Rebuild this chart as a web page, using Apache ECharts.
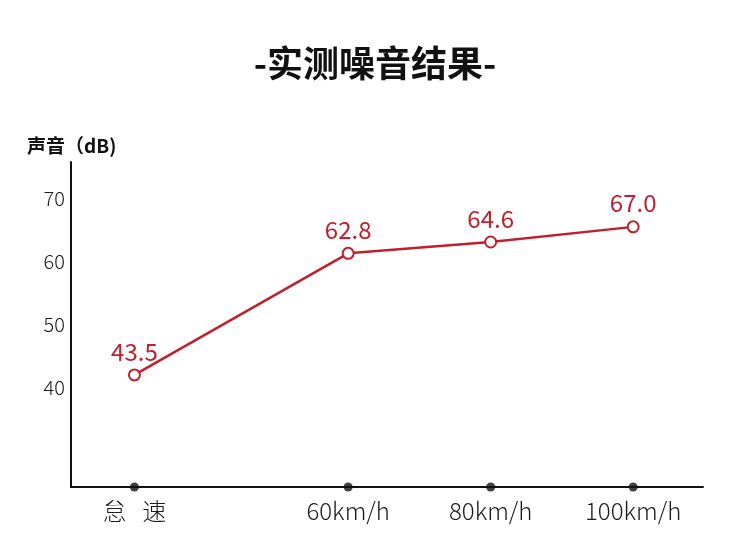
<!DOCTYPE html>
<html><head><meta charset="utf-8">
<script src="https://cdn.jsdelivr.net/npm/echarts@6/dist/echarts.min.js"></script>
<style>html,body{margin:0;padding:0;background:#fff}#c{width:750px;height:548px}</style>
</head><body><div id="c"></div>
<script>
const titleText = '-实测噪音结果-';
const yAxisTitle = '声音（dB)';
const categories = ['怠   速', '60km/h', '80km/h', '100km/h'];
const xSlots = [30, 60, 80, 100];
const noise = [43.5, 62.8, 64.6, 67.0];
const yTickLabels = [40, 50, 60, 70];

const yMin = 25.7, yMax = 77.3, xMin = 21.1, xMax = 109.8;
const RED = '#c0202e';
const FONT = '"Noto Sans CJK SC", "Noto Sans", sans-serif';

const chart = echarts.init(document.getElementById('c'), null, {renderer: 'canvas'});
chart.setOption({
  backgroundColor: '#fff',
  animation: false,
  title: [
    {text: titleText, left: 'center', top: 45, padding: 0,
     textStyle: {fontSize: 36, fontWeight: 'bold', color: '#111', fontFamily: FONT}},
    {text: yAxisTitle, left: 27, top: 136, padding: 0,
     textStyle: {fontSize: 19, fontWeight: 'bold', color: '#111', fontFamily: FONT}}
  ],
  grid: {left: 71, right: 47, top: 162, bottom: 61, containLabel: false},
  xAxis: {
    type: 'value', min: xMin, max: xMax,
    axisLine: {show: true, lineStyle: {color: '#111', width: 2}},
    axisTick: {show: false},
    splitLine: {show: false},
    axisLabel: {
      customValues: xSlots,
      formatter: v => categories[xSlots.indexOf(v)] || '',
      fontSize: 24, fontWeight: 300, color: '#1a1a1a', fontFamily: FONT, margin: 12
    }
  },
  yAxis: {
    type: 'value', min: yMin, max: yMax,
    axisLine: {show: true, lineStyle: {color: '#111', width: 2}},
    axisTick: {show: false},
    splitLine: {show: false},
    axisLabel: {
      customValues: yTickLabels,
      fontSize: 20, fontWeight: 300, color: '#1a1a1a', fontFamily: FONT, margin: 6,
      verticalAlign: 'bottom'
    }
  },
  series: [
    {
      type: 'line',
      data: xSlots.map((x, i) => [x, noise[i]]),
      symbol: 'circle', symbolSize: 11,
      itemStyle: {color: '#fff', borderColor: RED, borderWidth: 2},
      lineStyle: {color: RED, width: 2.5},
      label: {show: true, position: 'top', distance: 5, color: RED,
              fontSize: 24, fontFamily: FONT, formatter: p => p.value[1].toFixed(1)},
      z: 3
    },
    {
      type: 'scatter',
      data: xSlots.map(x => [x, yMin]),
      symbol: 'circle', symbolSize: 9,
      itemStyle: {color: '#111'},
      clip: false, silent: true, z: 4
    }
  ]
});
</script></body></html>
